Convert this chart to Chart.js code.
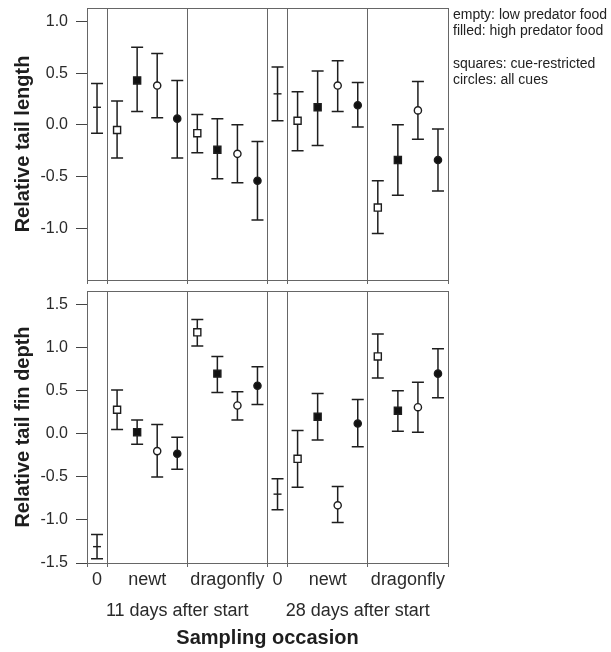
<!DOCTYPE html>
<html>
<head>
<meta charset="utf-8">
<script src="https://cdn.jsdelivr.net/npm/chart.js@4.4.1/dist/chart.umd.min.js"></script>
<style>
  html, body { margin: 0; padding: 0; background: #fff; }
  #wrap { position: relative; width: 611px; height: 652px; overflow: hidden; }
  #c1 { position: absolute; left: 0; top: 0; }
  #c2 { position: absolute; left: 0; top: 283px; }
  #legend { position: absolute; left: 453px; top: 6px; font: 14px "Liberation Sans", Arial, sans-serif; line-height: 16.3px; color: #222; white-space: nowrap; }
</style>
</head>
<body>
<div id="wrap">
  <canvas id="c1" width="611" height="290"></canvas>
  <canvas id="c2" width="611" height="369"></canvas>
  <div id="legend">empty: low predator food<br>filled: high predator food<br><br>squares: cue-restricted<br>circles: all cues</div>
</div>
<script>
// ---------- categories / tick labels ----------
const groupLabels = ['0', 'newt', 'dragonfly', '0', 'newt', 'dragonfly'];
const periodLabels = ['11 days after start', '28 days after start'];
const groupBoundaries = [0, 1, 5, 9, 10, 14, 18];
const lengthTicks = [1.0, 0.5, 0.0, -0.5, -1.0];
const depthTicks = [1.5, 1.0, 0.5, 0.0, -0.5, -1.0, -1.5];

// ---------- Relative tail length ----------
// control (0) columns: [11 d, 28 d]
const lenCtrl   = [0.17, 0.30];
const lenCtrlLo = [-0.08, 0.04];
const lenCtrlHi = [0.40, 0.56];
// treatment columns: [11 d newt, 11 d dragonfly, 28 d newt, 28 d dragonfly]
const lenEmptySq     = [-0.05, -0.08, 0.04, -0.80];
const lenEmptySqLo   = [-0.32, -0.27, -0.25, -1.05];
const lenEmptySqHi   = [0.23, 0.10, 0.32, -0.54];
const lenFilledSq    = [0.43, -0.24, 0.17, -0.34];
const lenFilledSqLo  = [0.13, -0.52, -0.20, -0.68];
const lenFilledSqHi  = [0.75, 0.06, 0.52, 0.00];
const lenEmptyCi     = [0.38, -0.28, 0.38, 0.14];
const lenEmptyCiLo   = [0.07, -0.56, 0.13, -0.14];
const lenEmptyCiHi   = [0.69, 0.00, 0.62, 0.42];
const lenFilledCi    = [0.06, -0.54, 0.19, -0.34];
const lenFilledCiLo  = [-0.32, -0.92, -0.02, -0.64];
const lenFilledCiHi  = [0.43, -0.16, 0.41, -0.04];

// ---------- Relative tail fin depth ----------
const depCtrl   = [-1.31, -0.70];
const depCtrlLo = [-1.45, -0.88];
const depCtrlHi = [-1.17, -0.52];
const depEmptySq     = [0.28, 1.18, -0.29, 0.90];
const depEmptySqLo   = [0.05, 1.02, -0.62, 0.65];
const depEmptySqHi   = [0.51, 1.33, 0.04, 1.16];
const depFilledSq    = [0.02, 0.70, 0.20, 0.27];
const depFilledSqLo  = [-0.12, 0.48, -0.07, 0.03];
const depFilledSqHi  = [0.16, 0.90, 0.47, 0.50];
const depEmptyCi     = [-0.20, 0.33, -0.83, 0.31];
const depEmptyCiLo   = [-0.50, 0.16, -1.03, 0.02];
const depEmptyCiHi   = [0.11, 0.49, -0.61, 0.60];
const depFilledCi    = [-0.23, 0.56, 0.12, 0.70];
const depFilledCiLo  = [-0.41, 0.34, -0.15, 0.42];
const depFilledCiHi  = [-0.04, 0.78, 0.40, 0.99];

// ---------- layout of slots (structure, derived from boundaries) ----------
const FONT = '"Liberation Sans", Arial, Helvetica, sans-serif';
Chart.defaults.font.family = FONT;
Chart.defaults.color = '#222';
const periodStart = [groupBoundaries[0], groupBoundaries[3]];
const ctrlX = periodStart.map(p => p + 0.5);
function treatX(seriesIdx) {
  return [0, 1, 2, 3].map(c => periodStart[Math.floor(c / 2)] + 1 + 4 * (c % 2) + seriesIdx + 0.5);
}
const groupCenters = groupBoundaries.slice(0, -1).map((b, i) => (b + groupBoundaries[i + 1]) / 2);
const periodCenters = [(groupBoundaries[0] + groupBoundaries[3]) / 2, (groupBoundaries[3] + groupBoundaries[6]) / 2];

const INK = '#1e1e1e';
const GRID = '#666';

function mkSeries(xs, ys, lo, hi, style, fill, radius) {
  return {
    data: xs.map((x, i) => ({ x: x, y: ys[i] })),
    errLo: lo, errHi: hi,
    showLine: false,
    pointStyle: style,
    pointRadius: radius,
    pointHoverRadius: radius,
    pointBackgroundColor: fill,
    pointBorderColor: INK,
    pointBorderWidth: 1.4,
    backgroundColor: fill,
    borderColor: INK,
  };
}

function buildDatasets(ctrl, ctrlLo, ctrlHi, s0, s0lo, s0hi, s1, s1lo, s1hi, s2, s2lo, s2hi, s3, s3lo, s3hi) {
  return [
    mkSeries(ctrlX, ctrl, ctrlLo, ctrlHi, 'line', INK, 4),
    mkSeries(treatX(0), s0, s0lo, s0hi, 'rect', '#fff', 5),
    mkSeries(treatX(1), s1, s1lo, s1hi, 'rect', '#111', 5),
    mkSeries(treatX(2), s2, s2lo, s2hi, 'circle', '#fff', 3.6),
    mkSeries(treatX(3), s3, s3lo, s3hi, 'circle', '#111', 3.6),
  ];
}

const errorBars = {
  id: 'errorBars',
  beforeDatasetsDraw(chart) {
    const ctx = chart.ctx, xs = chart.scales.x, ys = chart.scales.y;
    ctx.save();
    ctx.strokeStyle = INK;
    ctx.lineWidth = 1.5;
    chart.data.datasets.forEach(ds => {
      ds.data.forEach((p, i) => {
        const px = xs.getPixelForValue(p.x);
        const yl = ys.getPixelForValue(ds.errLo[i]);
        const yh = ys.getPixelForValue(ds.errHi[i]);
        ctx.beginPath();
        ctx.moveTo(px, yl); ctx.lineTo(px, yh);
        ctx.moveTo(px - 6, yl); ctx.lineTo(px + 6, yl);
        ctx.moveTo(px - 6, yh); ctx.lineTo(px + 6, yh);
        ctx.stroke();
      });
    });
    ctx.restore();
  }
};

const frame = {
  id: 'frame',
  afterDraw(chart) {
    const a = chart.chartArea, ctx = chart.ctx;
    ctx.save();
    ctx.strokeStyle = GRID;
    ctx.lineWidth = 1;
    ctx.strokeRect(Math.round(a.left) + 0.5, Math.round(a.top) + 0.5, Math.round(a.right - a.left), Math.round(a.bottom - a.top));
    ctx.restore();
  }
};

function noPad(s) {
  s.paddingTop = 0; s.paddingBottom = 0; s.paddingLeft = 0; s.paddingRight = 0;
}

function boundaryAxis(height) {
  return {
    type: 'linear', position: 'bottom', weight: 0, min: 0, max: 18,
    afterBuildTicks: s => { s.ticks = groupBoundaries.map(v => ({ value: v })); },
    ticks: { display: false },
    grid: { color: GRID, lineWidth: 1, drawTicks: true, tickLength: 4, tickColor: GRID },
    border: { color: GRID, width: 1 },
    afterFit: s => { s.height = height; noPad(s); }
  };
}

function yAxis(min, max, tickVals, title) {
  return {
    type: 'linear', position: 'left', min: min, max: max,
    afterBuildTicks: s => { s.ticks = tickVals.map(v => ({ value: v })); },
    ticks: { callback: v => Number(v).toFixed(1), font: { size: 16, family: FONT }, color: '#2a2a2a', padding: 8 },
    grid: { drawOnChartArea: false, drawTicks: true, tickLength: 11, color: '#444', tickColor: '#444' },
    border: { color: GRID, width: 1 },
    title: { display: true, text: title, font: { size: 20, weight: 'bold', family: FONT }, color: INK, padding: { top: 11, bottom: 0 } },
    afterFit: s => { s.width = 87; noPad(s); }
  };
}

const common = {
  responsive: false,
  animation: false,
  devicePixelRatio: 1,
  plugins: { legend: { display: false }, tooltip: { enabled: false } },
  events: [],
};

new Chart(document.getElementById('c1'), {
  type: 'scatter',
  data: { datasets: buildDatasets(lenCtrl, lenCtrlLo, lenCtrlHi,
    lenEmptySq, lenEmptySqLo, lenEmptySqHi, lenFilledSq, lenFilledSqLo, lenFilledSqHi,
    lenEmptyCi, lenEmptyCiLo, lenEmptyCiHi, lenFilledCi, lenFilledCiLo, lenFilledCiHi) },
  options: Object.assign({}, common, {
    layout: { padding: { top: 8, right: 163, left: 0, bottom: 0 } },
    scales: {
      x: boundaryAxis(10),
      y: yAxis(-1.5, 1.13, lengthTicks, 'Relative tail length')
    }
  }),
  plugins: [errorBars, frame]
});

new Chart(document.getElementById('c2'), {
  type: 'scatter',
  data: { datasets: buildDatasets(depCtrl, depCtrlLo, depCtrlHi,
    depEmptySq, depEmptySqLo, depEmptySqHi, depFilledSq, depFilledSqLo, depFilledSqHi,
    depEmptyCi, depEmptyCiLo, depEmptyCiHi, depFilledCi, depFilledCiLo, depFilledCiHi) },
  options: Object.assign({}, common, {
    layout: { padding: { top: 8, right: 163, left: 0, bottom: 0 } },
    scales: {
      x: boundaryAxis(4),
      xGroup: {
        type: 'linear', position: 'bottom', weight: 1, min: 0, max: 18,
        afterBuildTicks: s => { s.ticks = groupCenters.map(v => ({ value: v })); },
        ticks: { callback: (v, i) => groupLabels[i], autoSkip: false, maxRotation: 0, font: { size: 18, family: FONT }, color: '#2a2a2a', padding: 2 },
        grid: { display: false, drawTicks: false },
        border: { display: false },
        afterFit: s => { s.height = 25; noPad(s); }
      },
      xPeriod: {
        type: 'linear', position: 'bottom', weight: 2, min: 0, max: 18,
        afterBuildTicks: s => { s.ticks = periodCenters.map(v => ({ value: v })); },
        ticks: { callback: (v, i) => periodLabels[i], autoSkip: false, maxRotation: 0, font: { size: 18, family: FONT }, color: '#2a2a2a', padding: 8 },
        grid: { display: false, drawTicks: false },
        border: { display: false },
        title: { display: true, text: 'Sampling occasion', font: { size: 20, weight: 'bold', family: FONT }, color: INK, padding: { top: 0, bottom: 2 } },
        afterFit: s => { s.height = 60; noPad(s); }
      },
      y: yAxis(-1.5, 1.66, depthTicks, 'Relative tail fin depth')
    }
  }),
  plugins: [errorBars, frame]
});
</script>
</body>
</html>
